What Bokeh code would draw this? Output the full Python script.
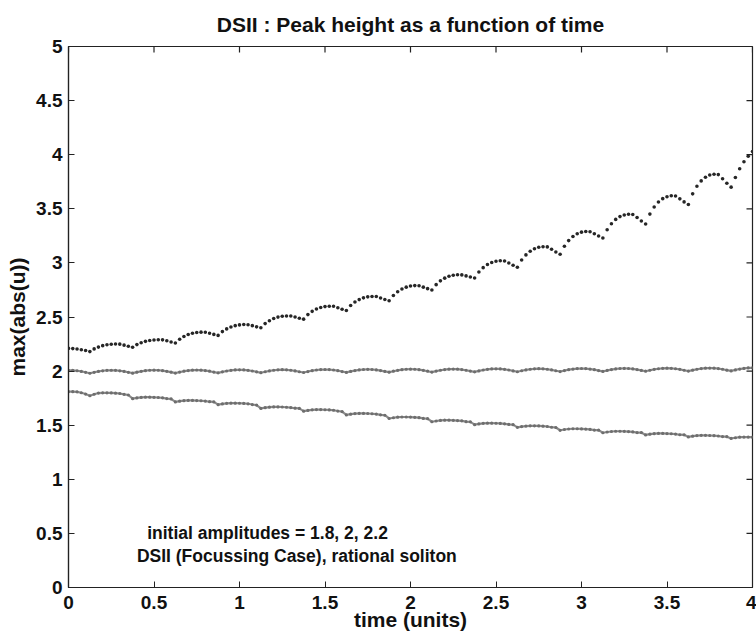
import numpy as np
from bokeh.plotting import figure
from bokeh.models import Range1d, FixedTicker, Label
from bokeh.embed import file_html
from bokeh.resources import INLINE

# ---------------- data ----------------
title_text = "DSII : Peak height as a function of time"
x_label = "time (units)"
y_label = "max(abs(u))"
note_lines = ["initial amplitudes = 1.8, 2, 2.2",
              "DSII (Focussing Case), rational soliton"]

x_ticks = [0, 0.5, 1, 1.5, 2, 2.5, 3, 3.5, 4]
x_tick_labels = ["0", "0.5", "1", "1.5", "2", "2.5", "3", "3.5", "4"]
y_ticks = [0, 0.5, 1, 1.5, 2, 2.5, 3, 3.5, 4, 4.5, 5]
y_tick_labels = ["0", "0.5", "1", "1.5", "2", "2.5", "3", "3.5", "4", "4.5", "5"]

# sample times (uniform step 0.025 from 0 to 4)
time = np.linspace(0.0, 4.0, 161)

amp_22 = [
    2.210, 2.208, 2.204, 2.198, 2.190,
    2.180, 2.205, 2.222, 2.235, 2.243, 2.248, 2.250, 2.249, 2.240, 2.229,
    2.220, 2.245, 2.262, 2.275, 2.283, 2.288, 2.290, 2.289, 2.280, 2.269,
    2.260, 2.295, 2.320, 2.338, 2.350, 2.357, 2.360, 2.359, 2.350, 2.339,
    2.330, 2.365, 2.390, 2.408, 2.420, 2.427, 2.430, 2.429, 2.420, 2.409,
    2.400, 2.439, 2.466, 2.486, 2.499, 2.507, 2.510, 2.509, 2.500, 2.489,
    2.480, 2.522, 2.552, 2.574, 2.588, 2.596, 2.600, 2.599, 2.586, 2.572,
    2.560, 2.606, 2.638, 2.661, 2.677, 2.686, 2.690, 2.689, 2.676, 2.662,
    2.650, 2.699, 2.734, 2.759, 2.776, 2.786, 2.790, 2.789, 2.776, 2.762,
    2.750, 2.799, 2.834, 2.859, 2.876, 2.886, 2.890, 2.889, 2.880, 2.869,
    2.860, 2.916, 2.956, 2.985, 3.004, 3.015, 3.020, 3.018, 2.999, 2.978,
    2.960, 3.027, 3.074, 3.108, 3.131, 3.144, 3.150, 3.148, 3.126, 3.101,
    3.080, 3.154, 3.206, 3.244, 3.269, 3.284, 3.290, 3.288, 3.269, 3.248,
    3.230, 3.307, 3.362, 3.402, 3.428, 3.443, 3.450, 3.447, 3.419, 3.387,
    3.360, 3.451, 3.516, 3.563, 3.594, 3.612, 3.620, 3.618, 3.592, 3.564,
    3.540, 3.638, 3.708, 3.758, 3.792, 3.812, 3.820, 3.816, 3.778, 3.736,
    3.700, 3.790, 3.870, 3.935, 3.985, 4.030,
]

amp_20 = [
    2.008, 2.007, 2.003, 1.997, 1.989,
    1.980, 1.989, 1.997, 2.003, 2.007, 2.008, 2.007, 2.003, 1.997, 1.989,
    1.981, 1.990, 1.998, 2.004, 2.008, 2.009, 2.008, 2.004, 1.998, 1.990,
    1.982, 1.991, 1.999, 2.005, 2.009, 2.010, 2.009, 2.005, 1.999, 1.991,
    1.984, 1.993, 2.001, 2.007, 2.011, 2.012, 2.011, 2.007, 2.001, 1.993,
    1.985, 1.994, 2.002, 2.008, 2.012, 2.013, 2.012, 2.008, 2.002, 1.994,
    1.987, 1.996, 2.004, 2.010, 2.014, 2.015, 2.014, 2.010, 2.004, 1.996,
    1.988, 1.997, 2.005, 2.011, 2.015, 2.016, 2.015, 2.011, 2.005, 1.997,
    1.990, 1.999, 2.007, 2.013, 2.017, 2.018, 2.017, 2.013, 2.007, 1.999,
    1.991, 2.000, 2.008, 2.014, 2.018, 2.019, 2.018, 2.014, 2.008, 2.000,
    1.993, 2.002, 2.010, 2.016, 2.020, 2.021, 2.020, 2.016, 2.010, 2.002,
    1.994, 2.003, 2.011, 2.017, 2.021, 2.022, 2.021, 2.017, 2.011, 2.003,
    1.996, 2.005, 2.013, 2.019, 2.023, 2.024, 2.023, 2.019, 2.013, 2.005,
    1.997, 2.006, 2.014, 2.020, 2.024, 2.025, 2.024, 2.020, 2.014, 2.006,
    1.999, 2.008, 2.016, 2.022, 2.026, 2.027, 2.026, 2.022, 2.016, 2.008,
    2.000, 2.009, 2.017, 2.023, 2.027, 2.028, 2.027, 2.023, 2.017, 2.009,
    2.002, 2.011, 2.019, 2.025, 2.029, 2.030,
]

amp_18 = [
    1.810, 1.810, 1.808, 1.800, 1.788,
    1.772, 1.786, 1.797, 1.799, 1.799, 1.798, 1.796, 1.793, 1.785, 1.779,
    1.745, 1.752, 1.757, 1.759, 1.759, 1.758, 1.756, 1.753, 1.746, 1.743,
    1.715, 1.722, 1.727, 1.729, 1.729, 1.728, 1.726, 1.723, 1.717, 1.715,
    1.690, 1.697, 1.702, 1.704, 1.704, 1.703, 1.701, 1.698, 1.691, 1.686,
    1.655, 1.662, 1.667, 1.669, 1.669, 1.668, 1.666, 1.663, 1.657, 1.655,
    1.630, 1.637, 1.642, 1.644, 1.644, 1.643, 1.641, 1.638, 1.631, 1.626,
    1.595, 1.602, 1.607, 1.609, 1.609, 1.608, 1.606, 1.603, 1.596, 1.592,
    1.562, 1.569, 1.574, 1.576, 1.576, 1.575, 1.573, 1.570, 1.563, 1.560,
    1.532, 1.539, 1.544, 1.546, 1.546, 1.545, 1.543, 1.540, 1.533, 1.531,
    1.505, 1.512, 1.517, 1.519, 1.519, 1.518, 1.516, 1.513, 1.507, 1.505,
    1.480, 1.487, 1.492, 1.494, 1.494, 1.493, 1.491, 1.488, 1.481, 1.479,
    1.453, 1.460, 1.465, 1.467, 1.467, 1.466, 1.464, 1.461, 1.455, 1.454,
    1.430, 1.437, 1.442, 1.444, 1.444, 1.443, 1.441, 1.438, 1.432, 1.432,
    1.410, 1.417, 1.422, 1.424, 1.424, 1.423, 1.421, 1.418, 1.412, 1.411,
    1.392, 1.399, 1.404, 1.406, 1.406, 1.405, 1.403, 1.400, 1.395, 1.394,
    1.378, 1.384, 1.389, 1.390, 1.390, 1.389,
]

# ---------------- figure ----------------
FONT = "Liberation Sans"
INK = "#111111"
AXIS_INK = "#222222"

x0, x1 = x_ticks[0], x_ticks[-1]
y0, y1 = y_ticks[0], y_ticks[-1]

p = figure(width=756, height=636, x_range=Range1d(x0, x1), y_range=Range1d(y0, y1),
           output_backend="svg", toolbar_location=None,
           min_border_left=68, min_border_right=4, min_border_top=46, min_border_bottom=49,
           background_fill_color="white", border_fill_color="white")

p.title.text = title_text
p.title.align = "center"
p.title.text_font = FONT
p.title.text_font_size = "21px"
p.title.text_font_style = "bold"
p.title.text_color = INK
p.title.standoff = 21

p.xgrid.visible = False
p.ygrid.visible = False
p.outline_line_color = AXIS_INK
p.outline_line_width = 1.2

def style_axis(ax, ticks, labels):
    ax.ticker = FixedTicker(ticks=ticks)
    ax.major_label_overrides = {t: l for t, l in zip(ticks, labels)}
    ax.major_tick_in = 6
    ax.major_tick_out = 0
    ax.minor_tick_in = 0
    ax.minor_tick_out = 0
    ax.axis_line_color = AXIS_INK
    ax.axis_line_width = 1.2
    ax.major_tick_line_color = AXIS_INK
    ax.major_label_text_font = FONT
    ax.major_label_text_font_style = "bold"
    ax.major_label_text_color = INK
    ax.major_label_text_font_size = "19px"
    ax.axis_label_text_font = FONT
    ax.axis_label_text_font_size = "21px"
    ax.axis_label_text_font_style = "bold"
    ax.axis_label_text_color = INK

style_axis(p.xaxis[0], x_ticks, x_tick_labels)
style_axis(p.yaxis[0], y_ticks, y_tick_labels)
p.xaxis[0].major_label_standoff = 8
p.yaxis[0].major_label_standoff = 6
p.xaxis[0].axis_label = x_label
p.yaxis[0].axis_label = y_label
p.xaxis[0].axis_label_standoff = -4
p.yaxis[0].axis_label_standoff = 4

# inward ticks on the top and right edges of the box (tick length ~6 px)
top_len = 6 * (y1 - y0) / 542
right_len = 6 * (x1 - x0) / 684
p.segment(x0=x_ticks, y0=[y1] * len(x_ticks), x1=x_ticks, y1=[y1 - top_len] * len(x_ticks),
          line_color=AXIS_INK, line_width=1.2)
p.segment(x0=[x1] * len(y_ticks), y0=y_ticks, x1=[x1 - right_len] * len(y_ticks), y1=y_ticks,
          line_color=AXIS_INK, line_width=1.2)

# ---------------- data marks ----------------
grey = "#6e6e6e"
p.line(time, amp_18, line_color=grey, line_width=2.2, line_alpha=0.8)
p.scatter(time, amp_18, size=3.2, fill_color=grey, line_color=None)
p.line(time, amp_20, line_color=grey, line_width=2.2, line_alpha=0.8)
p.scatter(time, amp_20, size=3.2, fill_color=grey, line_color=None)
p.scatter(time, amp_22, size=3.6, fill_color="#262626", line_color=None)

# ---------------- annotation ----------------
p.add_layout(Label(x=0.46, y=0.50, text=note_lines[0], text_font=FONT,
                   text_font_size="17.5px", text_font_style="bold",
                   text_color=INK, text_baseline="middle"))
p.add_layout(Label(x=0.40, y=0.295, text=note_lines[1], text_font=FONT,
                   text_font_size="17.5px", text_font_style="bold",
                   text_color=INK, text_baseline="middle"))

open("out.html", "w").write(file_html(p, INLINE))
